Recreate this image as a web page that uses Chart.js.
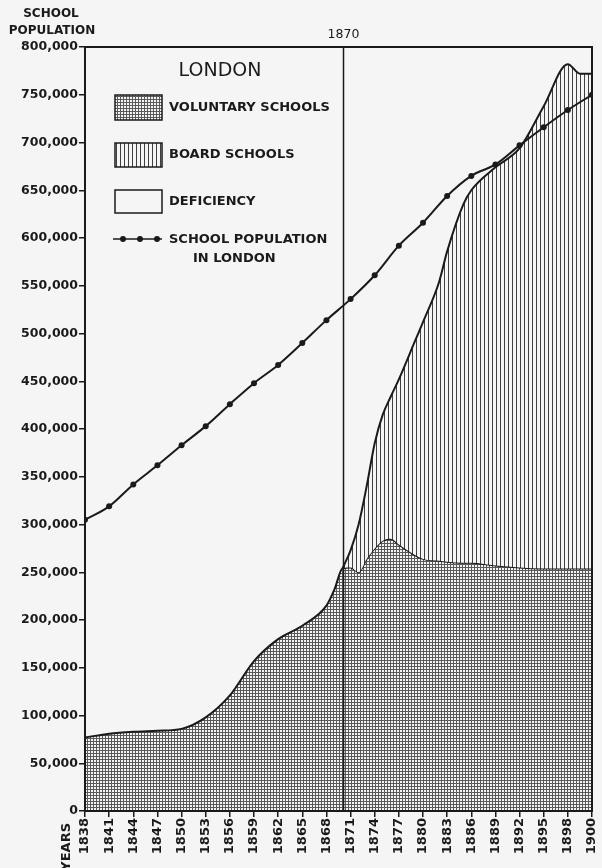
<!DOCTYPE html>
<html>
<head>
<meta charset="utf-8">
<script src="https://cdn.jsdelivr.net/npm/chart.js@4/dist/chart.umd.min.js"></script>
<style>
  html, body { margin: 0; padding: 0; background: #f5f5f5; }
  #wrap { position: relative; width: 602px; height: 868px; }
</style>
</head>
<body>
<div id="wrap"><canvas id="c"></canvas></div>
<script>
// Years marked along the bottom axis (evenly spaced; 1898 -> 1900 takes one full step)
const tickYears = [1838, 1841, 1844, 1847, 1850, 1853, 1856, 1859, 1862, 1865, 1868,
                   1871, 1874, 1877, 1880, 1883, 1886, 1889, 1892, 1895, 1898, 1900];

// School population in London
const populationYears = [1838, 1841, 1844, 1847, 1850, 1853, 1856, 1859, 1862, 1865, 1868,
                         1871, 1874, 1877, 1880, 1883, 1886, 1889, 1892, 1895, 1898, 1900];
const population = [305000, 319000, 342000, 362000, 383000, 403000, 426000, 448000, 467000, 490000, 514000,
                    536000, 561000, 592000, 616000, 644000, 665000, 677000, 697000, 716000, 734000, 750000];

// School places: voluntary schools, and board schools (from 1870)
const schoolYears = [1838, 1841, 1844, 1847, 1850, 1853, 1856, 1859, 1862, 1865, 1868, 1869,
                     1870, 1871, 1872, 1873, 1874, 1875, 1876, 1877, 1879, 1880, 1882, 1883,
                     1885, 1886, 1889, 1892, 1895, 1898, 1899, 1900];
const voluntarySchools = [77000, 81000, 83000, 84000, 86000, 98000, 121000, 157000, 180000, 194000, 215000, 232000,
                          254000, 255000, 250000, 264000, 275000, 283000, 285000, 279000, 268000, 264000, 262000, 261000,
                          260000, 260000, 257000, 255000, 254000, 254000, 254000, 254000];
const boardSchools = [null, null, null, null, null, null, null, null, null, null, null, null,
                      0, 18000, 50000, 76000, 110000, 132000, 149000, 173000, 224000, 248000, 292000, 325000,
                      375000, 390000, 417000, 439000, 484000, 528000, 518000, 518000];

const YEAR_1870 = 1870;

// Position of a year on the evenly spaced year axis
function yearPos(y) {
  return y <= 1898 ? (y - 1838) / 3 : 20 + (y - 1898) / 2;
}

const INK = '#1a1a1a';
const PAPER = '#f5f5f5';
const FONT = "'DejaVu Sans', sans-serif";

function makePattern(w, h, paint) {
  const c = document.createElement('canvas');
  c.width = w; c.height = h;
  const g = c.getContext('2d');
  g.fillStyle = PAPER; g.fillRect(0, 0, w, h);
  paint(g);
  return document.getElementById('c').getContext('2d').createPattern(c, 'repeat');
}
// fine cross-hatch for voluntary schools
const gridPattern = makePattern(3, 3, g => {
  g.fillStyle = '#595959';
  g.fillRect(0, 0, 3, 1);
  g.fillRect(0, 0, 1, 3);
});
// vertical ruling for board schools
const stripePattern = makePattern(4, 1, g => {
  g.fillStyle = '#404040';
  g.fillRect(0, 0, 1, 1);
});

const voluntaryPoints = schoolYears.map((y, i) => ({ x: yearPos(y), y: voluntarySchools[i] }));
const boardPoints = schoolYears
  .map((y, i) => boardSchools[i] === null ? null : { x: yearPos(y), y: voluntarySchools[i] + boardSchools[i] })
  .filter(p => p !== null);
const populationPoints = populationYears.map((y, i) => ({ x: yearPos(y), y: population[i] }));

// Frame, 1870 marker, headings and key
const decorations = {
  id: 'decorations',
  afterDatasetsDraw(chart) {
    const { ctx, chartArea: a, scales } = chart;
    ctx.save();
    ctx.strokeStyle = INK;
    ctx.lineWidth = 2;
    ctx.strokeRect(a.left, a.top, a.right - a.left, a.bottom - a.top);
    const x70 = Math.round(scales.x.getPixelForValue(yearPos(YEAR_1870))) + 0.5;
    ctx.lineWidth = 1.5;
    ctx.beginPath();
    ctx.moveTo(x70, a.top);
    ctx.lineTo(x70, a.bottom);
    ctx.stroke();
    ctx.restore();
  },
  afterDraw(chart) {
    const { ctx, chartArea: a, scales } = chart;
    ctx.save();
    ctx.fillStyle = INK;
    ctx.textBaseline = 'middle';

    // axis headings
    ctx.font = `bold 12px ${FONT}`;
    ctx.textAlign = 'center';
    ctx.fillText('SCHOOL', 51, 14);
    ctx.fillText('POPULATION', 52, 31);

    const x70 = scales.x.getPixelForValue(yearPos(YEAR_1870));
    ctx.font = `12.5px ${FONT}`;
    ctx.fillText(String(YEAR_1870), x70 + 1, 35);

    ctx.save();
    ctx.translate(67, a.bottom + 12);
    ctx.rotate(-Math.PI / 2);
    ctx.font = `bold 13px ${FONT}`;
    ctx.textAlign = 'right';
    ctx.fillText('YEARS', 0, 0);
    ctx.restore();

    // key
    const L = a.left, T = a.top;
    ctx.font = `19px ${FONT}`;
    ctx.textAlign = 'center';
    ctx.fillText('LONDON', L + 135, T + 24);

    const sx = L + 30, sw = 47;
    const swatches = [
      { y: T + 48, h: 25, fill: gridPattern, label: 'VOLUNTARY SCHOOLS', ty: T + 61 },
      { y: T + 96, h: 24, fill: stripePattern, label: 'BOARD SCHOOLS', ty: T + 108 },
      { y: T + 143, h: 23, fill: PAPER, label: 'DEFICIENCY', ty: T + 155 }
    ];
    ctx.font = `bold 13px ${FONT}`;
    ctx.textAlign = 'left';
    swatches.forEach(s => {
      ctx.fillStyle = s.fill;
      ctx.fillRect(sx, s.y, sw, s.h);
      ctx.strokeStyle = INK;
      ctx.lineWidth = 1.5;
      ctx.strokeRect(sx, s.y, sw, s.h);
      ctx.fillStyle = INK;
      ctx.fillText(s.label, L + 84, s.ty);
    });

    const ly = T + 192;
    ctx.strokeStyle = INK;
    ctx.lineWidth = 1.5;
    ctx.beginPath();
    ctx.moveTo(sx - 2, ly);
    ctx.lineTo(sx + sw, ly);
    ctx.stroke();
    [sx + 8, sx + 25, sx + 42].forEach(px => {
      ctx.beginPath();
      ctx.arc(px, ly, 3, 0, Math.PI * 2);
      ctx.fill();
    });
    ctx.fillText('SCHOOL POPULATION', L + 84, T + 193);
    ctx.fillText('IN LONDON', L + 108, T + 212);
    ctx.restore();
  }
};

const paperBg = {
  id: 'paperBg',
  beforeDraw(chart) {
    const { ctx, width, height } = chart;
    ctx.save();
    ctx.fillStyle = PAPER;
    ctx.fillRect(0, 0, width, height);
    ctx.restore();
  }
};

new Chart(document.getElementById('c'), {
  type: 'line',
  data: {
    datasets: [
      {
        label: 'VOLUNTARY SCHOOLS',
        data: voluntaryPoints,
        borderColor: INK,
        borderWidth: 2,
        backgroundColor: gridPattern,
        fill: 'origin',
        pointRadius: 0,
        cubicInterpolationMode: 'monotone',
        order: 2
      },
      {
        label: 'BOARD SCHOOLS',
        data: boardPoints,
        borderColor: INK,
        borderWidth: 2,
        backgroundColor: stripePattern,
        fill: '-1',
        pointRadius: 0,
        cubicInterpolationMode: 'monotone',
        order: 1
      },
      {
        label: 'SCHOOL POPULATION IN LONDON',
        data: populationPoints,
        borderColor: INK,
        borderWidth: 2,
        fill: false,
        pointRadius: 3,
        pointBackgroundColor: INK,
        pointBorderWidth: 0,
        cubicInterpolationMode: 'monotone',
        order: 0
      }
    ]
  },
  options: {
    responsive: true,
    maintainAspectRatio: false,
    animation: false,
    layout: { padding: { top: 47, right: 10, bottom: 0, left: 0 } },
    plugins: { legend: { display: false }, tooltip: { enabled: false } },
    scales: {
      x: {
        type: 'linear',
        min: 0,
        max: yearPos(1900),
        afterBuildTicks: s => { s.ticks = tickYears.map(y => ({ value: yearPos(y) })); },
        afterFit: s => { s.height = 57; s.paddingRight = 0; s.paddingLeft = 0; },
        ticks: {
          autoSkip: false,
          minRotation: 90,
          maxRotation: 90,
          padding: 1,
          color: INK,
          font: { family: FONT, size: 13, weight: 'bold' },
          callback: (v, i) => String(tickYears[i])
        },
        grid: { drawOnChartArea: false, drawTicks: true, tickLength: 6, lineWidth: 1.5, color: INK },
        border: { display: true, width: 2, color: INK }
      },
      y: {
        min: 0,
        max: 800000,
        afterFit: s => { s.width = 85; },
        ticks: {
          stepSize: 50000,
          padding: 1,
          color: INK,
          font: { family: FONT, size: 12.5, weight: 'bold' },
          callback: v => v.toLocaleString('en-US')
        },
        grid: { drawOnChartArea: false, drawTicks: true, tickLength: 6, lineWidth: 1.5, color: INK },
        border: { display: true, width: 2, color: INK }
      }
    }
  },
  plugins: [paperBg, decorations]
});
</script>
</body>
</html>
